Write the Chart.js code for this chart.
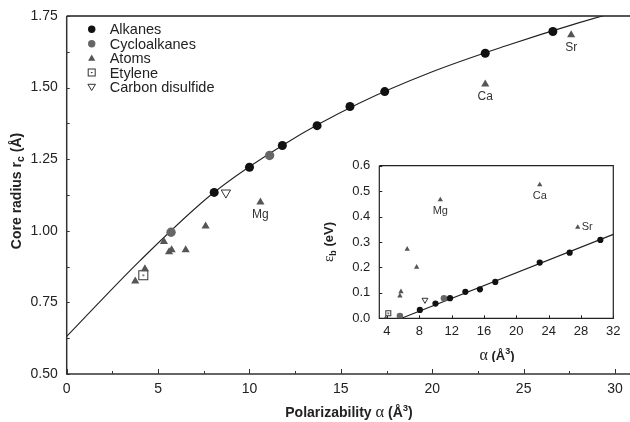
<!DOCTYPE html>
<html>
<head>
<meta charset="utf-8">
<script src="https://cdn.jsdelivr.net/npm/chart.js@4.4.1/dist/chart.umd.min.js"></script>
<style>
  html, body { margin: 0; padding: 0; background: #fff; }
  #wrap { position: relative; width: 630px; height: 422px; overflow: hidden; background: #fff; }
  #main { position: absolute; left: 0; top: 0; }
  #inset { position: absolute; left: 320px; top: 150px; }
</style>
</head>
<body>
<div id="wrap">
  <canvas id="main" width="630" height="422"></canvas>
  <canvas id="inset" width="310" height="212"></canvas>
</div>
<script>
// ---- core radius vs polarizability ----
const alkaneAlpha = [8.07, 10.0, 11.8, 13.7, 15.5, 17.4, 22.9, 26.6, 30.4];
const alkaneRc    = [1.134, 1.222, 1.298, 1.367, 1.434, 1.486, 1.620, 1.696];
const cycloAlpha  = [5.71, 11.1];
const cycloRc     = [0.995, 1.263];
const atomAlpha   = [3.75, 4.28, 5.32, 5.60, 5.74, 6.51, 7.60, 10.6, 22.9, 27.6];
const atomRc      = [0.824, 0.867, 0.962, 0.926, 0.933, 0.933, 1.016, 1.100, 1.512, 1.684];
const atomNames   = ['', '', '', '', '', '', '', 'Mg', 'Ca', 'Sr'];
const etyleneAlpha = [4.19];
const etyleneRc    = [0.845];
const cs2Alpha     = [8.71];
const cs2Rc        = [1.133];
// fitted curve, read along its length
const fitAlpha = [0, 4, 8, 12, 16, 20, 24, 28, 31];
const fitRc    = [0.631, 0.895, 1.131, 1.306, 1.445, 1.555, 1.645, 1.726, 1.780];

// ---- binding energy vs polarizability (inset) ----
const alkaneEb     = [0.033, 0.058, 0.079, 0.104, 0.114, 0.143, 0.219, 0.258, 0.308];
const cycloEbAlpha = [5.60, 11.05];
const cycloEb      = [0.009, 0.079];
const atomEbAlpha  = [3.84, 5.60, 5.73, 6.50, 7.67, 10.6, 22.9, 27.6];
const atomEb       = [0.0, 0.088, 0.105, 0.272, 0.201, 0.466, 0.525, 0.358];
const atomEbNames  = ['', '', '', '', '', 'Mg', 'Ca', 'Sr'];
const etyleneEbAlpha = [4.16];
const etyleneEb      = [0.020];
const cs2EbAlpha     = [8.70];
const cs2Eb          = [0.072];
const lineAlpha = [5.8, 32];
const lineEb    = [0.0, 0.33];

// ---- ticks ----
const mainXTicks  = [0, 5, 10, 15, 20, 25, 30];
const mainYTicks  = [0.5, 0.75, 1.0, 1.25, 1.5, 1.75];
const insetXTicks = [4, 8, 12, 16, 20, 24, 28, 32];
const insetYTicks = [0, 0.1, 0.2, 0.3, 0.4, 0.5, 0.6];

const legendNames = ['Alkanes', 'Cycloalkanes', 'Atoms', 'Etylene', 'Carbon disulfide'];

const SANS = '"Liberation Sans", Arial, Helvetica, sans-serif';
const SERIF = '"Liberation Serif", "Times New Roman", serif';
Chart.defaults.font.family = SANS;
Chart.defaults.color = '#222';

const pts = (xs, ys) => ys.map((v, i) => ({ x: xs[i], y: v }));

// open square with a dot in the middle
function squareDot(size) {
  const c = document.createElement('canvas');
  c.width = c.height = size + 2;
  const g = c.getContext('2d');
  g.fillStyle = '#fff';
  g.fillRect(1, 1, size, size);
  g.strokeStyle = '#333';
  g.lineWidth = 1;
  g.strokeRect(1.5, 1.5, size - 1, size - 1);
  g.fillStyle = '#333';
  g.fillRect(c.width / 2 - 1, c.height / 2 - 0.5, 2, 1.2);
  return c;
}

// axis lines and inward tick marks
const framePlugin = {
  id: 'frame',
  beforeDatasetsDraw(chart, args, o) {
    const { ctx, chartArea: a, scales: { x, y } } = chart;
    ctx.save();
    ctx.strokeStyle = o.color;
    ctx.lineWidth = o.width;
    ctx.beginPath();
    ctx.moveTo(a.left, a.top); ctx.lineTo(a.left, a.bottom); ctx.lineTo(a.right, a.bottom);
    if (o.box) { ctx.lineTo(a.right, a.top); ctx.lineTo(a.left, a.top); }
    ctx.stroke();
    if (o.topLine) {
      ctx.beginPath();
      ctx.strokeStyle = o.topLine.color;
      ctx.lineWidth = o.topLine.width;
      ctx.moveTo(a.left, a.top); ctx.lineTo(a.right, a.top);
      ctx.stroke();
      ctx.strokeStyle = o.color;
    }
    ctx.lineWidth = 1;
    const xt = o.xTicks, yt = o.yTicks;
    const halves = (arr) => arr.slice(1).map((v, i) => (v + arr[i]) / 2);
    ctx.beginPath();
    xt.forEach(v => { const p = Math.round(x.getPixelForValue(v)) + 0.5; ctx.moveTo(p, a.bottom); ctx.lineTo(p, a.bottom - o.xMajorLen); });
    if (o.xMinor) halves(xt).forEach(v => { const p = Math.round(x.getPixelForValue(v)) + 0.5; ctx.moveTo(p, a.bottom); ctx.lineTo(p, a.bottom - o.minorLen); });
    yt.forEach(v => { const p = Math.round(y.getPixelForValue(v)) + 0.5; ctx.moveTo(a.left, p); ctx.lineTo(a.left + o.yMajorLen, p); });
    if (o.yMinor) halves(yt).forEach(v => { const p = Math.round(y.getPixelForValue(v)) + 0.5; ctx.moveTo(a.left, p); ctx.lineTo(a.left + o.minorLen, p); });
    ctx.stroke();
    ctx.restore();
  }
};

// text runs with mixed fonts, sub- and superscripts
function drawRuns(ctx, runs, cx, cy, rotate) {
  ctx.save();
  ctx.translate(cx, cy);
  if (rotate) ctx.rotate(-Math.PI / 2);
  ctx.textBaseline = 'alphabetic';
  ctx.textAlign = 'left';
  let w = 0;
  runs.forEach(r => { ctx.font = r.font; r.w = ctx.measureText(r.t).width; w += r.w; });
  let xx = -w / 2;
  runs.forEach(r => { ctx.font = r.font; ctx.fillStyle = '#222'; ctx.fillText(r.t, xx, r.dy || 0); xx += r.w; });
  ctx.restore();
}

const titlesPlugin = {
  id: 'titles',
  afterDraw(chart, args, o) {
    (o.items || []).forEach(it => drawRuns(chart.ctx, it.runs, it.x, it.y, it.rotate));
  }
};

// names next to the atom markers
const pointLabels = {
  id: 'pointLabels',
  afterDatasetsDraw(chart, args, o) {
    const ctx = chart.ctx;
    chart.data.datasets.forEach((ds, i) => {
      if (!ds.pointNames) return;
      chart.getDatasetMeta(i).data.forEach((el, j) => {
        const name = ds.pointNames[j];
        if (!name) return;
        ctx.save();
        ctx.font = o.font;
        ctx.fillStyle = o.color;
        ctx.textBaseline = 'middle';
        if (o.right && o.right.includes(name)) {
          ctx.textAlign = 'left';
          ctx.fillText(name, el.x + o.dx, el.y);
        } else {
          ctx.textAlign = 'center';
          ctx.fillText(name, el.x, el.y + o.dy);
        }
        ctx.restore();
      });
    });
  }
};

// legend in the upper-left of the plot
const legendPlugin = {
  id: 'cornerLegend',
  afterDraw(chart, args, o) {
    const ctx = chart.ctx;
    const mx = o.x, tx = o.x + 18;
    ctx.save();
    legendNames.forEach((name, i) => {
      const yy = o.y + i * o.step;
      ctx.beginPath();
      if (i === 0 || i === 1) {
        ctx.fillStyle = i === 0 ? '#111' : '#666';
        ctx.arc(mx, yy, 3.7, 0, Math.PI * 2);
        ctx.fill();
      } else if (i === 2) {
        ctx.fillStyle = '#555';
        ctx.moveTo(mx, yy - 3.6); ctx.lineTo(mx + 3.6, yy + 2.6); ctx.lineTo(mx - 3.6, yy + 2.6);
        ctx.closePath(); ctx.fill();
      } else if (i === 3) {
        ctx.strokeStyle = '#333'; ctx.lineWidth = 1;
        ctx.strokeRect(mx - 3.5, yy - 3.5, 7, 7);
        ctx.fillStyle = '#333'; ctx.fillRect(mx - 0.8, yy - 0.5, 1.6, 1.1);
      } else {
        ctx.strokeStyle = '#333'; ctx.lineWidth = 1;
        ctx.moveTo(mx - 3.8, yy - 2.6); ctx.lineTo(mx + 3.8, yy - 2.6); ctx.lineTo(mx, yy + 3.6);
        ctx.closePath(); ctx.stroke();
      }
      ctx.font = o.font;
      ctx.fillStyle = '#222';
      ctx.textAlign = 'left';
      ctx.textBaseline = 'middle';
      ctx.fillText(name, tx, yy + 1);
    });
    ctx.restore();
  }
};

function scaleOpts(min, max, ticks, fmt, size, pad, fitKey, fitVal) {
  return {
    type: 'linear', min, max,
    afterBuildTicks: s => { s.ticks = ticks.map(v => ({ value: v })); },
    afterFit: s => {
      s[fitKey] = fitVal;
      s.paddingLeft = 0; s.paddingRight = 0; s.paddingTop = 0; s.paddingBottom = 0;
    },
    grid: { display: false, drawTicks: false },
    border: { display: false },
    ticks: { font: { size }, color: '#222', padding: pad, maxRotation: 0, autoSkip: false, callback: fmt }
  };
}

// ---------------- main chart ----------------
new Chart(document.getElementById('main'), {
  type: 'scatter',
  data: {
    datasets: [
      { label: 'Alkanes', data: pts(alkaneAlpha, alkaneRc), pointStyle: 'circle', pointRadius: 4.5,
        backgroundColor: '#111', borderColor: '#111', borderWidth: 0 },
      { label: 'Cycloalkanes', data: pts(cycloAlpha, cycloRc), pointStyle: 'circle', pointRadius: 4.7,
        backgroundColor: '#666', borderColor: '#666', borderWidth: 0 },
      { label: 'Atoms', data: pts(atomAlpha, atomRc), pointNames: atomNames, pointStyle: 'triangle', pointRadius: 4.7,
        backgroundColor: '#555', borderColor: '#555', borderWidth: 0 },
      { label: 'Etylene', data: pts(etyleneAlpha, etyleneRc), pointStyle: squareDot(10), pointRadius: 5 },
      { label: 'Carbon disulfide', data: pts(cs2Alpha, cs2Rc), pointStyle: 'triangle', rotation: 180, pointRadius: 5.4,
        backgroundColor: '#fff', borderColor: '#333', borderWidth: 1 },
      { type: 'line', label: 'fit', data: pts(fitAlpha, fitRc), showLine: true, pointRadius: 0, borderColor: '#222',
        borderWidth: 1.1, cubicInterpolationMode: 'monotone', fill: false }
    ]
  },
  options: {
    responsive: false, animation: false, events: [],
    layout: { autoPadding: false, padding: { left: 0, right: 0, top: 16, bottom: 0 } },
    scales: {
      x: scaleOpts(0, 30.82, mainXTicks, v => String(v), 14, 7, 'height', 48),
      y: scaleOpts(0.5, 1.75, mainYTicks, v => v.toFixed(2), 14, 9, 'width', 66.7)
    },
    plugins: {
      legend: { display: false }, tooltip: { enabled: false },
      frame: { color: '#333', width: 1.5, box: false, topLine: { color: '#555', width: 2 },
        xTicks: mainXTicks, yTicks: mainYTicks, xMinor: true, yMinor: true, xMajorLen: 5, yMajorLen: 3, minorLen: 3 },
      pointLabels: { font: '12px ' + SANS, color: '#333', dy: 13, dx: 6 },
      cornerLegend: { x: 91.7, y: 29.3, step: 14.4, font: '14.5px ' + SANS },
      titles: { items: [
        { x: 349, y: 417, runs: [
          { t: 'Polarizability ', font: 'bold 14px ' + SANS },
          { t: 'α', font: '16.5px ' + SERIF },
          { t: ' (Å', font: 'bold 14px ' + SANS },
          { t: '3', font: 'bold 9.5px ' + SANS, dy: -6 },
          { t: ')', font: 'bold 14px ' + SANS } ] },
        { x: 21, y: 191, rotate: true, runs: [
          { t: 'Core radius r', font: 'bold 14px ' + SANS },
          { t: 'c', font: 'bold 10.5px ' + SANS, dy: 3 },
          { t: ' (Å)', font: 'bold 14px ' + SANS } ] }
      ] }
    }
  },
  plugins: [framePlugin, pointLabels, legendPlugin, titlesPlugin]
});

// ---------------- inset ----------------
new Chart(document.getElementById('inset'), {
  type: 'scatter',
  data: {
    datasets: [
      { label: 'Alkanes', data: pts(alkaneAlpha, alkaneEb), pointStyle: 'circle', pointRadius: 3.1,
        backgroundColor: '#111', borderColor: '#111', borderWidth: 0 },
      { label: 'Cycloalkanes', data: pts(cycloEbAlpha, cycloEb), pointStyle: 'circle', pointRadius: 3.3,
        backgroundColor: '#666', borderColor: '#666', borderWidth: 0 },
      { label: 'Atoms', data: pts(atomEbAlpha, atomEb), pointNames: atomEbNames, pointStyle: 'triangle', pointRadius: 3.1,
        backgroundColor: '#555', borderColor: '#555', borderWidth: 0 },
      { label: 'Etylene', data: pts(etyleneEbAlpha, etyleneEb), pointStyle: squareDot(6), pointRadius: 4 },
      { label: 'Carbon disulfide', data: pts(cs2EbAlpha, cs2Eb), pointStyle: 'triangle', rotation: 180, pointRadius: 3.4,
        backgroundColor: '#fff', borderColor: '#333', borderWidth: 1 },
      { type: 'line', label: 'fit', data: pts(lineAlpha, lineEb), showLine: true, pointRadius: 0, borderColor: '#222',
        borderWidth: 1.1, fill: false }
    ]
  },
  options: {
    responsive: false, animation: false, events: [],
    layout: { autoPadding: false, padding: { left: 0, right: 16.7, top: 15.7, bottom: 0 } },
    scales: {
      x: scaleOpts(3.05, 32, insetXTicks, v => String(v), 13, 5, 'height', 43.7),
      y: scaleOpts(0, 0.6, insetYTicks, v => v.toFixed(1), 13, 9, 'width', 59.3)
    },
    plugins: {
      legend: { display: false }, tooltip: { enabled: false },
      frame: { color: '#222', width: 1.2, box: true,
        xTicks: insetXTicks, yTicks: insetYTicks, xMinor: false, yMinor: false, xMajorLen: 3, yMajorLen: 3, minorLen: 2 },
      pointLabels: { font: '11px ' + SANS, color: '#333', dy: 11, dx: 4, right: ['Sr'] },
      titles: { items: [
        { x: 177, y: 210, runs: [
          { t: 'α', font: '16px ' + SERIF },
          { t: ' (Å', font: 'bold 13px ' + SANS },
          { t: '3', font: 'bold 9px ' + SANS, dy: -6 },
          { t: ')', font: 'bold 13px ' + SANS } ] },
        { x: 13, y: 92, rotate: true, runs: [
          { t: 'ε', font: '15px ' + SERIF },
          { t: 'b', font: 'bold 9px ' + SANS, dy: 3 },
          { t: ' (eV)', font: 'bold 13px ' + SANS } ] }
      ] }
    }
  },
  plugins: [framePlugin, pointLabels, titlesPlugin]
});
</script>
</body>
</html>
